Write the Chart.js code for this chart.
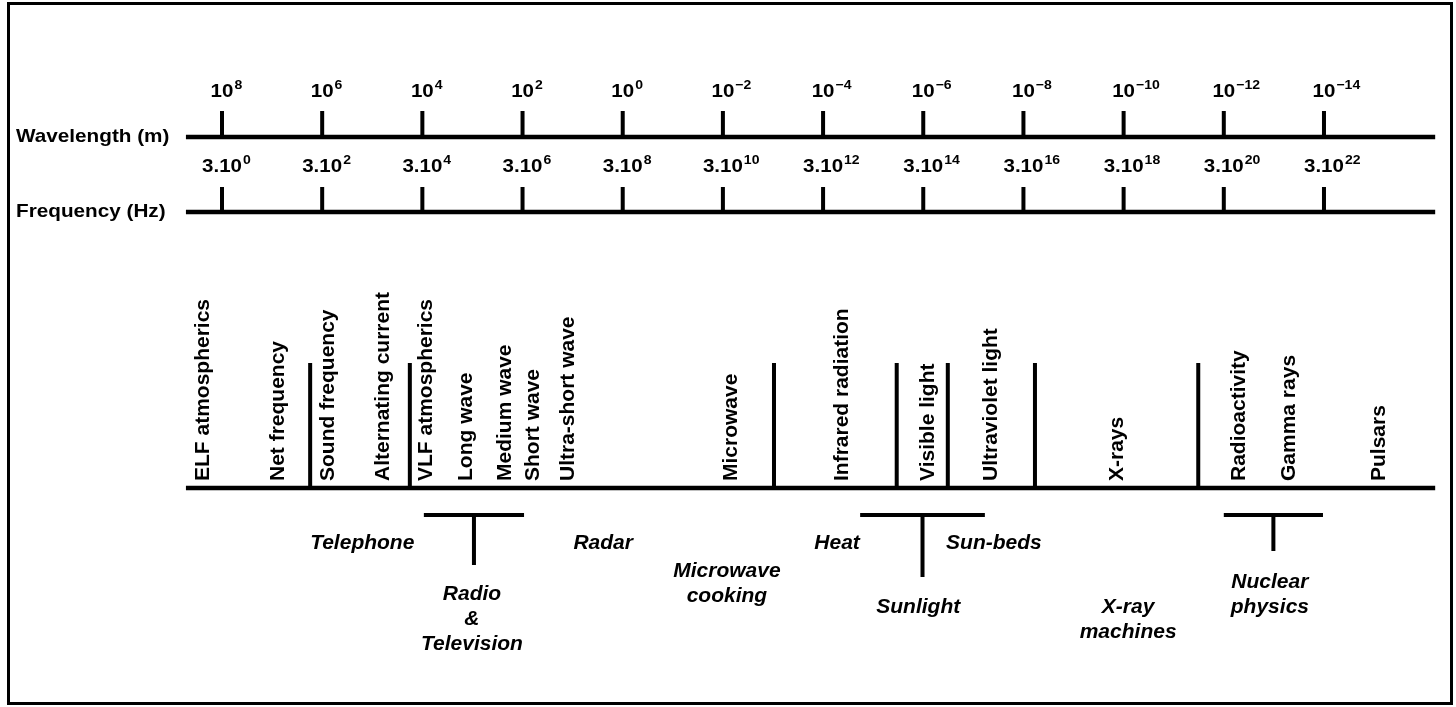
<!DOCTYPE html>
<html>
<head>
<meta charset="utf-8">
<title>Electromagnetic spectrum</title>
<script src="https://cdn.jsdelivr.net/npm/chart.js@4/dist/chart.umd.min.js"></script>
<style>
  html, body { margin: 0; padding: 0; background: #fff; }
  #wrap { position: relative; width: 1456px; height: 707px; }
</style>
</head>
<body>
<div id="wrap"><canvas id="spectrum" width="1456" height="707"></canvas></div>
<script>
// x unit = exponent of the frequency (3.10^x Hz); wavelength exponent = 8 - x

const waveExponents = [8, 6, 4, 2, 0, -2, -4, -6, -8, -10, -12, -14];
const freqExponents = [0, 2, 4, 6, 8, 10, 12, 14, 16, 18, 20, 22];

const bandNames = [
  'ELF atmospherics', 'Net frequency', 'Sound frequency', 'Alternating current',
  'VLF atmospherics', 'Long wave', 'Medium wave', 'Short wave', 'Ultra-short wave',
  'Microwave', 'Infrared radiation', 'Visible light', 'Ultraviolet light',
  'X-rays', 'Radioactivity', 'Gamma rays', 'Pulsars'
];
const bandCenters = [
  -0.41, 1.09, 2.09, 3.18,
  4.05, 4.85, 5.62, 6.18, 6.88,
  10.14, 12.34, 14.07, 15.33,
  17.83, 20.28, 21.27, 23.07
];
const bandBoundaries = [1.76, 3.75, 11.02, 13.47, 14.49, 16.23, 19.49];

const useLabels = [
  ['Telephone'], ['Radio', '&', 'Television'], ['Radar'], ['Microwave', 'cooking'],
  ['Heat'], ['Sunlight'], ['Sun-beds'], ['X-ray', 'machines'], ['Nuclear', 'physics']
];
const useCenters = [2.80, 4.99, 7.61, 10.08, 12.28, 13.90, 15.41, 18.09, 20.92];
const useRows = [0, 2, 0, 1, 0, 3, 0, 3, 4];

// grouping brackets: [from, to] in frequency exponent, stem at the middle
const groupSpans = [[4.03, 6.03], [12.74, 15.23], [20.00, 21.98]];
const groupStemEnds = [565, 577, 551];

// layout (pixels on the reversed y scale)
const AXIS_LEFT = -0.72;
const AXIS_RIGHT = 24.22;
const WAVE_Y = 137, WAVE_TICK_TOP = 111;
const FREQ_Y = 212, FREQ_TICK_TOP = 187;
const BASE_Y = 488, SEP_TOP = 363;
const GROUP_Y = 515;
const USE_ROW_Y = [543, 571, 594, 607, 582];
const LINE_GAP = 25;

const PX_PER_UNIT = 50.09;
const X_MIN = -222 / PX_PER_UNIT;
const X_MAX = (1456 - 222) / PX_PER_UNIT;

function segments(list) {
  // list of [[x1,y1],[x2,y2]] -> points with gaps
  const pts = [];
  list.forEach(([a, b]) => {
    pts.push({ x: a[0], y: a[1] }, { x: b[0], y: b[1] }, { x: b[0], y: null });
  });
  return pts;
}

function lineSet(data, width) {
  return {
    data,
    showLine: true,
    borderColor: '#000',
    borderWidth: width,
    pointRadius: 0,
    pointHoverRadius: 0,
    spanGaps: false,
    borderCapStyle: 'butt',
    tension: 0,
  };
}

const axisLines = segments([
  [[AXIS_LEFT, WAVE_Y], [AXIS_RIGHT, WAVE_Y]],
  [[AXIS_LEFT, FREQ_Y], [AXIS_RIGHT, FREQ_Y]],
  [[AXIS_LEFT, BASE_Y], [AXIS_RIGHT, BASE_Y]],
]);
const tickLines = segments(freqExponents.flatMap(x => [
  [[x, WAVE_TICK_TOP], [x, WAVE_Y]],
  [[x, FREQ_TICK_TOP], [x, FREQ_Y]],
]));
const sepLines = segments(bandBoundaries.map(x => [[x, SEP_TOP], [x, BASE_Y]]));
const groupLines = segments(groupSpans.flatMap(([a, b], i) => [
  [[a, GROUP_Y], [b, GROUP_Y]],
  [[(a + b) / 2, GROUP_Y], [(a + b) / 2, groupStemEnds[i]]],
]));

const FONT = '"Liberation Sans", Arial, Helvetica, sans-serif';

function drawScaled(ctx, str, x, y, sx, align) {
  ctx.save();
  ctx.translate(x, y);
  ctx.scale(sx, 1);
  ctx.textAlign = align;
  ctx.fillText(str, 0, 0);
  ctx.restore();
}

const textPlugin = {
  id: 'spectrumText',
  afterDraw(chart) {
    const ctx = chart.ctx;
    const xs = chart.scales.x;
    const ys = chart.scales.y;
    ctx.save();
    ctx.fillStyle = '#000';
    ctx.textBaseline = 'alphabetic';

    // frame
    ctx.strokeStyle = '#000';
    ctx.lineWidth = 3;
    ctx.strokeRect(8.5, 3.5, 1443, 700);

    // axis titles
    ctx.font = 'bold 19px ' + FONT;
    drawScaled(ctx, 'Wavelength (m)', 16, ys.getPixelForValue(WAVE_Y) + 5, 1.09, 'left');
    drawScaled(ctx, 'Frequency (Hz)', 16, ys.getPixelForValue(FREQ_Y) + 5, 1.09, 'left');

    // tick labels with superscripts
    const tickRow = (bases, sups, baseY) => {
      bases.forEach((base, i) => {
        const x = xs.getPixelForValue(freqExponents[i]);
        ctx.font = 'bold 19px ' + FONT;
        const w = ctx.measureText(base).width * 1.08;
        drawScaled(ctx, base, x, baseY, 1.08, 'center');
        ctx.font = 'bold 13px ' + FONT;
        drawScaled(ctx, sups[i], x + w / 2 + 1, baseY - 8, 1.08, 'left');
      });
    };
    tickRow(waveExponents.map(() => '10'),
      waveExponents.map(e => String(e).replace('-', '\u2212')), 97);
    tickRow(freqExponents.map(() => '3.10'),
      freqExponents.map(e => String(e)), 172);

    // band names, rotated
    ctx.font = 'bold 21px ' + FONT;
    bandNames.forEach((name, i) => {
      ctx.save();
      ctx.translate(xs.getPixelForValue(bandCenters[i]), ys.getPixelForValue(BASE_Y - 7));
      ctx.rotate(-Math.PI / 2);
      ctx.textAlign = 'left';
      ctx.fillText(name, 0, 7.5);
      ctx.restore();
    });

    // applications, italic
    ctx.font = 'italic bold 21px ' + FONT;
    ctx.textBaseline = 'middle';
    useLabels.forEach((lines, i) => {
      const x = xs.getPixelForValue(useCenters[i]);
      lines.forEach((line, j) => {
        const y = ys.getPixelForValue(USE_ROW_Y[useRows[i]] + j * LINE_GAP);
        drawScaled(ctx, line, x, y, 1, 'center');
      });
    });
    ctx.restore();
  }
};

new Chart(document.getElementById('spectrum'), {
  type: 'scatter',
  data: {
    datasets: [
      lineSet(axisLines, 4.5),
      lineSet(tickLines, 4),
      lineSet(sepLines, 4),
      lineSet(groupLines, 4),
    ]
  },
  options: {
    responsive: false,
    animation: false,
    devicePixelRatio: 1,
    layout: { padding: 0 },
    plugins: { legend: { display: false }, tooltip: { enabled: false } },
    events: [],
    scales: {
      x: { type: 'linear', min: X_MIN, max: X_MAX, display: false },
      y: { type: 'linear', min: 0, max: 707, reverse: true, display: false },
    }
  },
  plugins: [textPlugin]
});
</script>
</body>
</html>
